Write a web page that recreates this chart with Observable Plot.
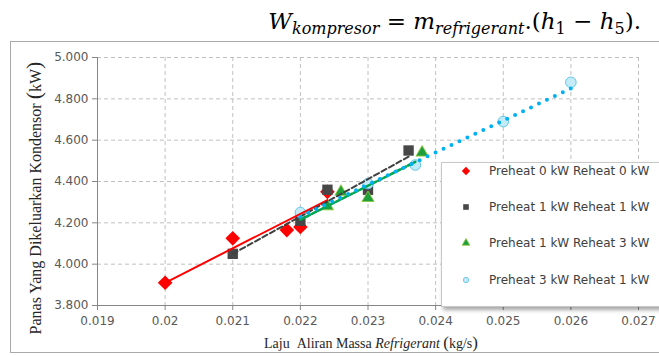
<!DOCTYPE html>
<html>
<head>
<meta charset="utf-8">
<script src="https://cdn.jsdelivr.net/npm/d3@7"></script>
<script src="https://cdn.jsdelivr.net/npm/@observablehq/plot@0.6"></script>
<style>
  body { margin: 0; background: #fff; }
  #wrap { position: relative; width: 659px; height: 356px; overflow: hidden; background: #fff; }
  #frame { position: absolute; left: 10px; top: 41px; width: 700px; height: 310px; border: 1.5px solid #a9a9a9; }
  #formula { position: absolute; right: 18px; top: 8px; font-family: "DejaVu Serif", serif; font-style: italic; font-size: 23px; color: #000; white-space: nowrap; }
  #formula sub { font-size: 16px; vertical-align: -5px; line-height: 0; }
  #formula .up { font-style: normal; }
  #chart { position: absolute; left: 0; top: 0; }
  #ytitle { position: absolute; left: 34px; top: 198px; transform: translate(-50%, -50%) rotate(-90deg); font-family: "Liberation Serif", serif; font-size: 16px; color: #262626; white-space: nowrap; }
  #ytitle .par { font-size: 22px; }
  #xtitle { position: absolute; left: 371px; top: 333px; transform: translateX(-50%); font-family: "Liberation Serif", serif; font-size: 14px; color: #262626; white-space: nowrap; }
  #xtitle .par { font-size: 17px; }
  #legend { position: absolute; left: 441px; top: 162px; width: 260px; height: 143px; background: #fff; border: 1px solid #c8c8c8; box-shadow: 2px 3px 4px rgba(0,0,0,0.35); }
  .row { position: absolute; left: 0; height: 16px; }
  .row svg { position: absolute; left: 16px; top: 0; }
  .row span { position: absolute; left: 47px; top: 0; font-family: "DejaVu Sans", sans-serif; font-size: 12px; line-height: 16px; color: #404040; white-space: nowrap; }
</style>
</head>
<body>
<div id="wrap">
  <div id="frame"></div>
  <div id="formula"><span>W</span><sub>kompresor</sub> <span class="up">=</span> <span>m</span><sub>refrigerant</sub><span class="up">.(</span><span>h</span><sub class="up">1</sub> <span class="up">−</span> <span>h</span><sub class="up">5</sub><span class="up">).</span></div>
  <div id="chart"></div>
  <div id="ytitle">Panas Yang Dikeluarkan Kondensor <span class="par">(</span>kW<span class="par">)</span></div>
  <div id="xtitle">Laju &nbsp;Aliran Massa <i>Refrigerant</i> <span class="par">(</span>kg/s<span class="par">)</span></div>
  <div id="legend"></div>
</div>
<script>
// Axis ticks and their printed labels
const xTicks = [0.019, 0.020, 0.021, 0.022, 0.023, 0.024, 0.025, 0.026, 0.027];
const xTickLabels = ["0.019", "0.02", "0.021", "0.022", "0.023", "0.024", "0.025", "0.026", "0.027"];
const yTicks = [3.8, 4.0, 4.2, 4.4, 4.6, 4.8, 5.0];
const yTickLabels = ["3.800", "4.000", "4.200", "4.400", "4.600", "4.800", "5.000"];

// Series names
const seriesNames = [
  "Preheat 0 kW Reheat 0 kW",
  "Preheat 1 kW Reheat 1 kW",
  "Preheat 1 kW Reheat 3 kW",
  "Preheat 3 kW Reheat 1 kW"
];

// Mass flow rate of refrigerant (kg/s) vs heat released by the condenser (kW)
const p0r0Flow = [0.020, 0.021, 0.0218, 0.022, 0.0224];
const p0r0Heat = [3.91, 4.125, 4.165, 4.18, 4.35];
const p1r1Flow = [0.021, 0.022, 0.0224, 0.023, 0.0236];
const p1r1Heat = [4.05, 4.21, 4.36, 4.36, 4.55];
const p1r3Flow = [0.0224, 0.0226, 0.023, 0.0238];
const p1r3Heat = [4.28, 4.35, 4.32, 4.54];
const p3r1Flow = [0.022, 0.023, 0.0237, 0.025, 0.026];
const p3r1Heat = [4.25, 4.39, 4.48, 4.69, 4.88];

// Linear trendlines: start and end of each fitted line
const p0r0TrendFlow = [0.020, 0.0224];
const p0r0TrendHeat = [3.91, 4.31];
const p1r1TrendFlow = [0.021, 0.0236];
const p1r1TrendHeat = [4.05, 4.52];
const p1r3TrendFlow = [0.022, 0.0237];
const p1r3TrendHeat = [4.215, 4.495];
const p3r1TrendFlow = [0.022, 0.026];
const p3r1TrendHeat = [4.23, 4.85];

const rows = (xs, ys) => xs.map((x, i) => ({x, y: ys[i]}));
const labelOf = (ticks, labels) => d => labels[ticks.findIndex(t => Math.abs(t - d) < 1e-9)];

const styles = [
  {symbol: "diamond2", fill: "#ff0000", stroke: "none", r: 6.6, line: {stroke: "#ff0000", strokeWidth: 2}},
  {symbol: "square2", fill: "#474747", stroke: "none", r: 6.6, line: {stroke: "#404040", strokeWidth: 2, strokeDasharray: "5.5,3"}},
  {symbol: "triangle2", fill: "#1f9e3c", stroke: "#8cc63f", r: 5.8, line: {stroke: "#00a651", strokeWidth: 2.6, strokeDasharray: "4.5,2.2"}},
  {symbol: "circle", fill: "#c4ebf8", stroke: "#58bfe6", r: 5.3, line: {stroke: "#00b0f0", strokeWidth: 4, strokeDasharray: "0,8.8", strokeLinecap: "round"}}
];

const points = [
  rows(p0r0Flow, p0r0Heat),
  rows(p1r1Flow, p1r1Heat),
  rows(p1r3Flow, p1r3Heat),
  rows(p3r1Flow, p3r1Heat)
];
const trends = [
  rows(p0r0TrendFlow, p0r0TrendHeat),
  rows(p1r1TrendFlow, p1r1TrendHeat),
  rows(p1r3TrendFlow, p1r3TrendHeat),
  rows(p3r1TrendFlow, p3r1TrendHeat)
];

const dotMarks = points.map((data, i) => Plot.dot(data, {
  x: "x", y: "y", symbol: () => styles[i].symbol, r: styles[i].r,
  fill: styles[i].fill, stroke: styles[i].stroke, strokeWidth: 0.9
}));
const lineMarks = trends.map((data, i) => Plot.line(data, {x: "x", y: "y", ...styles[i].line}));

const chart = Plot.plot({
  width: 659,
  height: 356,
  marginLeft: 97,
  marginRight: 21,
  marginTop: 57,
  marginBottom: 51,
  style: {background: "transparent", fontFamily: "DejaVu Sans, sans-serif", fontSize: "12px"},
  x: {domain: [0.019, 0.027], label: null},
  y: {domain: [3.8, 5.0], label: null},
  symbol: {type: "identity"},
  marks: [
    Plot.gridX(xTicks, {stroke: "#c0c0c0", strokeOpacity: 1, strokeDasharray: "4,3"}),
    Plot.gridY(yTicks, {stroke: "#c0c0c0", strokeOpacity: 1, strokeDasharray: "4,3"}),
    Plot.axisX(xTicks, {tickFormat: labelOf(xTicks, xTickLabels), tickSize: 5, tickPadding: 6, stroke: "#868686", fill: "#595959", label: null}),
    Plot.axisY(yTicks, {tickFormat: labelOf(yTicks, yTickLabels), tickSize: 5, tickPadding: 4, stroke: "#868686", fill: "#595959", label: null}),
    Plot.ruleX([0.019], {stroke: "#868686"}),
    Plot.ruleY([3.8], {stroke: "#868686"}),
    ...dotMarks,
    ...lineMarks
  ]
});
document.getElementById("chart").appendChild(chart);

// Legend: one marker and label for each series
const legend = d3.select("#legend");
const legendSize = {diamond2: 45, square2: 40, triangle2: 42, circle: 22};
const symbolType = {diamond2: d3.symbolDiamond2, square2: d3.symbolSquare2, triangle2: d3.symbolTriangle2, circle: d3.symbolCircle};
const rowTops = [0, 36, 72, 109];
seriesNames.forEach((name, i) => {
  const row = legend.append("div").attr("class", "row").style("top", rowTops[i] + "px");
  const svg = row.append("svg").attr("width", 16).attr("height", 16);
  svg.append("path")
    .attr("transform", "translate(8,8)")
    .attr("d", d3.symbol(symbolType[styles[i].symbol], legendSize[styles[i].symbol])())
    .attr("fill", styles[i].fill)
    .attr("stroke", styles[i].stroke)
    .attr("stroke-width", 0.8);
  row.append("span").text(name);
});
</script>
</body>
</html>
